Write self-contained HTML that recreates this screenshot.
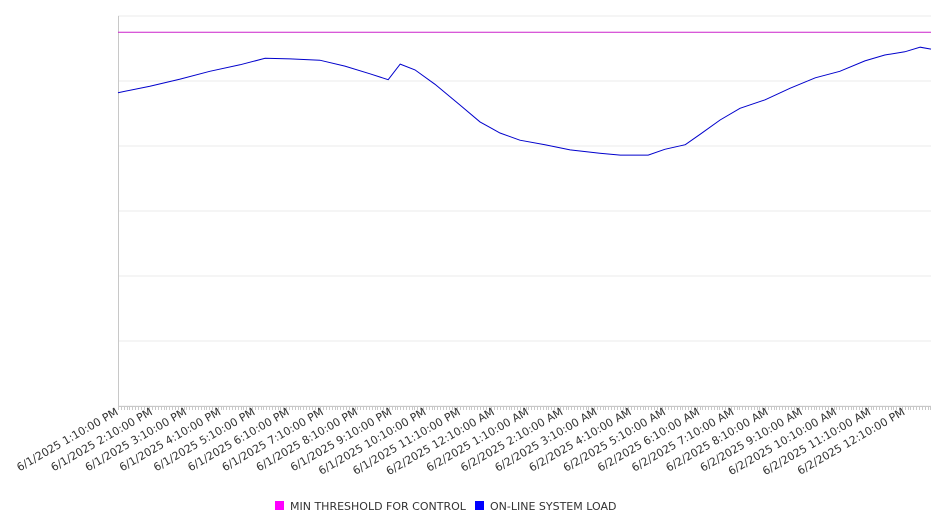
<!DOCTYPE html>
<html><head><meta charset="utf-8"><style>
body{margin:0;background:#fff}
svg{display:block;font-family:"DejaVu Sans","Liberation Sans",sans-serif}
</style></head><body>
<svg id="chart" width="946" height="526"></svg>
<script>
const categories=["6/1/2025 1:10:00 PM","6/1/2025 2:10:00 PM","6/1/2025 3:10:00 PM","6/1/2025 4:10:00 PM","6/1/2025 5:10:00 PM","6/1/2025 6:10:00 PM","6/1/2025 7:10:00 PM","6/1/2025 8:10:00 PM","6/1/2025 9:10:00 PM","6/1/2025 10:10:00 PM","6/1/2025 11:10:00 PM","6/2/2025 12:10:00 AM","6/2/2025 1:10:00 AM","6/2/2025 2:10:00 AM","6/2/2025 3:10:00 AM","6/2/2025 4:10:00 AM","6/2/2025 5:10:00 AM","6/2/2025 6:10:00 AM","6/2/2025 7:10:00 AM","6/2/2025 8:10:00 AM","6/2/2025 9:10:00 AM","6/2/2025 10:10:00 AM","6/2/2025 11:10:00 AM","6/2/2025 12:10:00 PM"];
const loadMinutes=[0,56,109,161,214,258,302,354,398,442,474,495,521,556,600,635,670,705,749,793,845,881,930,959,995,1021,1056,1091,1135,1179,1223,1266,1310,1345,1380,1407,1426];
const loadValues=[482,492,503,515,525,535,534,532,523,511,502,526,517,495,463,437,420,409,402,394,389,386,386,395,402,418,440,458,471,489,505,515,531,540,545,552,549];
const thresholdValue=575;
const totalMinutes=1426;
const yMax=600;

const NS="http://www.w3.org/2000/svg";
const svg=document.getElementById('chart');
const L=118,R=931,T=16,B=406;
const xs=m=>L+m/totalMinutes*(R-L);
const ys=v=>B-v/yMax*(B-T);
function mk(tag,attrs,parent){const e=document.createElementNS(NS,tag);for(const k in attrs)e.setAttribute(k,attrs[k]);(parent||svg).appendChild(e);return e;}

for(let g=0;g<=6;g++){const y=ys(g*100);
const l=mk('line',{x1:L,x2:R,y1:y,y2:y,stroke:'#ebebeb','stroke-width':1});

}
const ax=mk('line',{x1:L+0.5,x2:L+0.5,y1:T,y2:B,stroke:'#c8c8c8'});


const bx=mk('line',{x1:L,x2:R,y1:B+0.5,y2:B+0.5,stroke:'#c8c8c8'});


let tp='';for(let m=0;m<=totalMinutes;m+=5){const x=Math.round(xs(m))+0.5;tp+=`M${x},${B}V${B+4}`;}
const tk=mk('path',{d:tp,stroke:'#c8c8c8','stroke-width':1});



categories.forEach((c,i)=>{const x=xs(i*60)+1;
const t=mk('text',{x:x,y:B+8,'font-size':11,fill:'#333','text-anchor':'end',transform:`rotate(-30 ${x} ${B+8})`});
t.textContent=c;

});

const th=mk('line',{x1:L,x2:R,y1:ys(thresholdValue),y2:ys(thresholdValue),stroke:'#cc22cc','stroke-width':1});


const d=loadMinutes.map((m,i)=>(i?'L':'M')+xs(m).toFixed(1)+','+ys(loadValues[i]).toFixed(1)).join('');
const ln=mk('path',{d:d,fill:'none',stroke:'#0000cc','stroke-width':1});



const lg=mk('g',{});


const items=[['MIN THRESHOLD FOR CONTROL','#ff00ff',275],['ON-LINE SYSTEM LOAD','#0000ff',475]];
items.forEach(it=>{const g=mk('g',{},lg);


mk('rect',{x:it[2],y:501,width:9,height:9,fill:it[1]},g);
const t=mk('text',{x:it[2]+15,y:510,'font-size':11,fill:'#333'},g);t.textContent=it[0];});
</script>
</body></html>
